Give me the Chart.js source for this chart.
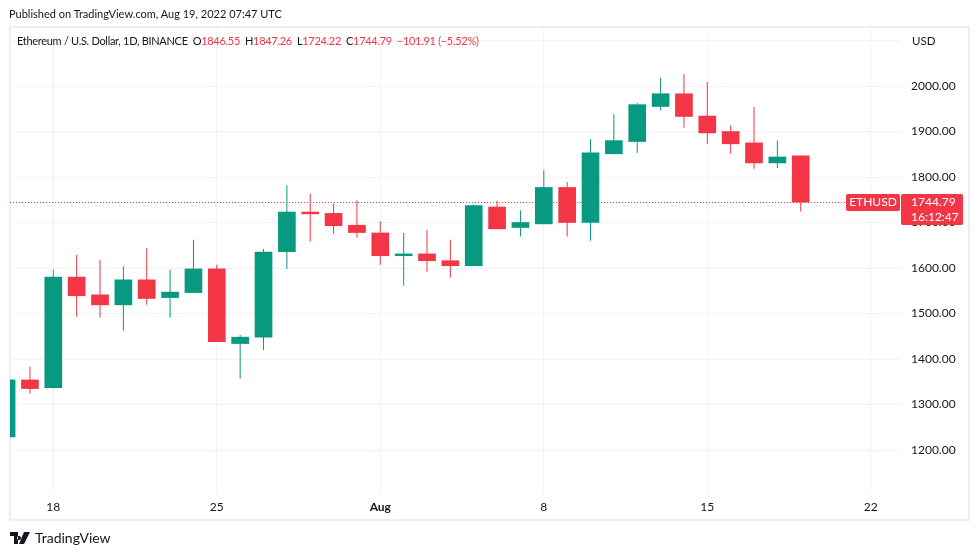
<!DOCTYPE html>
<html>
<head>
<meta charset="utf-8">
<script src="https://cdn.jsdelivr.net/npm/chart.js@4"></script>
<style>
  html, body { margin:0; padding:0; background:#ffffff; }
  body { width:979px; height:555px; position:relative; overflow:hidden; font-family: Lato, "Open Sans", sans-serif; color:#131722; }
  #wrap { position:absolute; left:0; top:0; width:979px; height:555px; }
  canvas { position:absolute; left:0; top:0; }
  .txt { position:absolute; white-space:nowrap; font-size:11.5px; line-height:14px; }
  #frame { position:absolute; left:9px; top:26px; width:957px; height:491px; border:2px solid #eceef2; pointer-events:none; }
  .red { color:#f23645; }
  .g { margin-left:5px; }
  #logo { position:absolute; left:10px; top:529px; display:flex; align-items:center; }
  #logo span { font-size:14px; margin-left:5px; color:#131722; }
</style>
</head>
<body>
<div id="wrap">
  <div id="frame"></div>
  <canvas id="c" width="979" height="555"></canvas>
  <div class="txt" style="left:9px; top:7px; font-size:11px;">Published on TradingView.com, Aug 19, 2022 07:47 UTC</div>
  <div class="txt" style="left:17px; top:34px; font-size:11px; letter-spacing:-0.3px;">Ethereum / U.S. Dollar, 1D, BINANCE<span class="g">O</span><span class="red">1846.55</span><span class="g">H</span><span class="red">1847.26</span><span class="g">L</span><span class="red">1724.22</span><span class="g">C</span><span class="red">1744.79</span><span class="red g">−101.91 (−5.52%)</span></div>
  <div class="txt" style="left:912px; top:34px;">USD</div>
  <div id="logo">
    <svg width="20" height="12" viewBox="0 0 20 12"><path d="M0 0h8v12H4V4H0z M9 4a2 2 0 1 0 0.01 0z M14 0h6l-6 12h-5z" fill="#131722"/></svg>
    <span>TradingView</span>
  </div>
</div>
<script>
// ---- data ----
const days = ['2022-07-16','2022-07-17','2022-07-18','2022-07-19','2022-07-20','2022-07-21','2022-07-22','2022-07-23','2022-07-24','2022-07-25','2022-07-26','2022-07-27','2022-07-28','2022-07-29','2022-07-30','2022-07-31','2022-08-01','2022-08-02','2022-08-03','2022-08-04','2022-08-05','2022-08-06','2022-08-07','2022-08-08','2022-08-09','2022-08-10','2022-08-11','2022-08-12','2022-08-13','2022-08-14','2022-08-15','2022-08-16','2022-08-17','2022-08-18','2022-08-19'];
const opens  = [1229,1354,1337,1580,1541,1519,1574,1535,1546,1598,1434,1448,1636,1723,1720,1694,1677,1627,1631,1616,1605,1734,1689,1697,1777,1700,1851,1878,1955,1983,1934,1900,1875,1831,1846.55];
const highs  = [1380,1383,1596,1629,1618,1604,1644,1596,1662,1607,1453,1642,1782,1764,1742,1749,1703,1677,1684,1662,1740,1748,1727,1815,1789,1883,1938,1963,2018,2026,2009,1914,1954,1880,1847.26];
const lows   = [1190,1324,1335,1493,1491,1462,1519,1491,1546,1438,1357,1420,1598,1658,1675,1667,1607,1561,1592,1579,1605,1686,1669,1697,1669,1660,1851,1853,1946,1908,1873,1851,1818,1820,1724.22];
const closes = [1354,1335,1580,1539,1519,1574,1533,1547,1598,1438,1448,1635,1723,1719,1693,1678,1627,1631,1616,1605,1737,1686,1700,1777,1700,1853,1880,1959,1983,1933,1897,1873,1831,1844,1744.79];
const tickDates  = ['2022-07-18','2022-07-25','2022-08-01','2022-08-08','2022-08-15','2022-08-22'];
const tickLabels = ['18','25','Aug','8','15','22'];
const priceTicks = [1200,1300,1400,1500,1600,1700,1800,1900,2000,2100];
const symbol = 'ETHUSD';
const countdown = '16:12:47';

// ---- helpers ----
const UP = '#089981', DOWN = '#f23645';
const DAY = 86400000;
const t0 = Date.parse(days[0] + 'T00:00:00Z');
const dayIndex = d => (Date.parse(d + 'T00:00:00Z') - t0) / DAY;
const xs = days.map(dayIndex);
const colors = opens.map((o, i) => closes[i] >= o ? UP : DOWN);
const tickX = tickDates.map(dayIndex);
const FONT = 'Lato, "Open Sans", sans-serif';
const lastClose = closes[closes.length - 1];
const lastColor = colors[colors.length - 1];

const priceLabel = {
  id: 'priceLabel',
  beforeDatasetsDraw(chart) {
    const {ctx, chartArea} = chart;
    const y = Math.round(chart.scales.y.getPixelForValue(lastClose)) + 0.5;
    ctx.save();
    ctx.strokeStyle = lastColor;
    ctx.lineWidth = 1;
    ctx.setLineDash([1, 2]);
    ctx.beginPath();
    ctx.moveTo(chartArea.left, y);
    ctx.lineTo(chartArea.right, y);
    ctx.stroke();
    ctx.restore();
  },
  afterDraw(chart) {
    const {ctx, chartArea} = chart;
    const y = Math.round(chart.scales.y.getPixelForValue(lastClose));
    ctx.save();
    ctx.fillStyle = lastColor;
    ctx.beginPath();
    ctx.roundRect(chartArea.right + 1, y - 8, 62, 31, 2);
    ctx.fill();
    ctx.beginPath();
    ctx.roundRect(chartArea.right - 54, y - 8, 54, 17, 2);
    ctx.fill();
    ctx.fillStyle = '#ffffff';
    ctx.font = '12px ' + FONT;
    ctx.textBaseline = 'middle';
    ctx.textAlign = 'left';
    ctx.fillText(lastClose.toFixed(2), chartArea.right + 11, y + 0.5);
    ctx.fillText(countdown, chartArea.right + 11, y + 15.5);
    ctx.textAlign = 'center';
    ctx.fillText(symbol, chartArea.right - 27, y + 0.5);
    ctx.restore();
  }
};

new Chart(document.getElementById('c'), {
  type: 'bar',
  data: {
    datasets: [
      {
        label: 'body',
        data: xs.map((x, i) => ({x, y: [opens[i], closes[i]]})),
        backgroundColor: colors,
        barThickness: 17,
        grouped: false,
        order: 1
      },
      {
        label: 'wick',
        data: xs.map((x, i) => ({x, y: [lows[i], highs[i]]})),
        backgroundColor: colors,
        barThickness: 1,
        grouped: false,
        inflateAmount: 0,
        order: 2
      }
    ]
  },
  options: {
    responsive: false,
    animation: false,
    devicePixelRatio: 1,
    layout: { padding: { left: 10, top: 27, right: 11, bottom: 36 } },
    plugins: { legend: { display: false }, tooltip: { enabled: false } },
    scales: {
      x: {
        type: 'linear',
        offset: false,
        min: 0.146,
        max: 38.25,
        afterBuildTicks: s => { s.ticks = tickX.map(v => ({value: v})); },
        afterFit: s => { s.height = 27; },
        grid: { color: '#f0f3fa', drawTicks: false, offset: false },
        border: { display: false },
        ticks: {
          autoSkip: false,
          maxRotation: 0,
          padding: 8,
          color: '#131722',
          callback: (v, i) => tickLabels[i],
          font: ctx => ({ family: FONT, size: 12, weight: (tickLabels[ctx.index] === 'Aug') ? 'bold' : 'normal' })
        }
      },
      y: {
        position: 'right',
        min: 1107.7,
        max: 2129.7,
        afterBuildTicks: s => { s.ticks = priceTicks.map(v => ({value: v})); },
        afterFit: s => { s.width = 68; },
        grid: { color: '#f0f3fa', drawTicks: false },
        border: { display: false },
        ticks: {
          padding: 11,
          color: '#131722',
          font: { family: FONT, size: 12 },
          callback: v => v === 2100 ? '' : Number(v).toFixed(2)
        }
      }
    }
  },
  plugins: [priceLabel]
});
</script>
</body>
</html>
